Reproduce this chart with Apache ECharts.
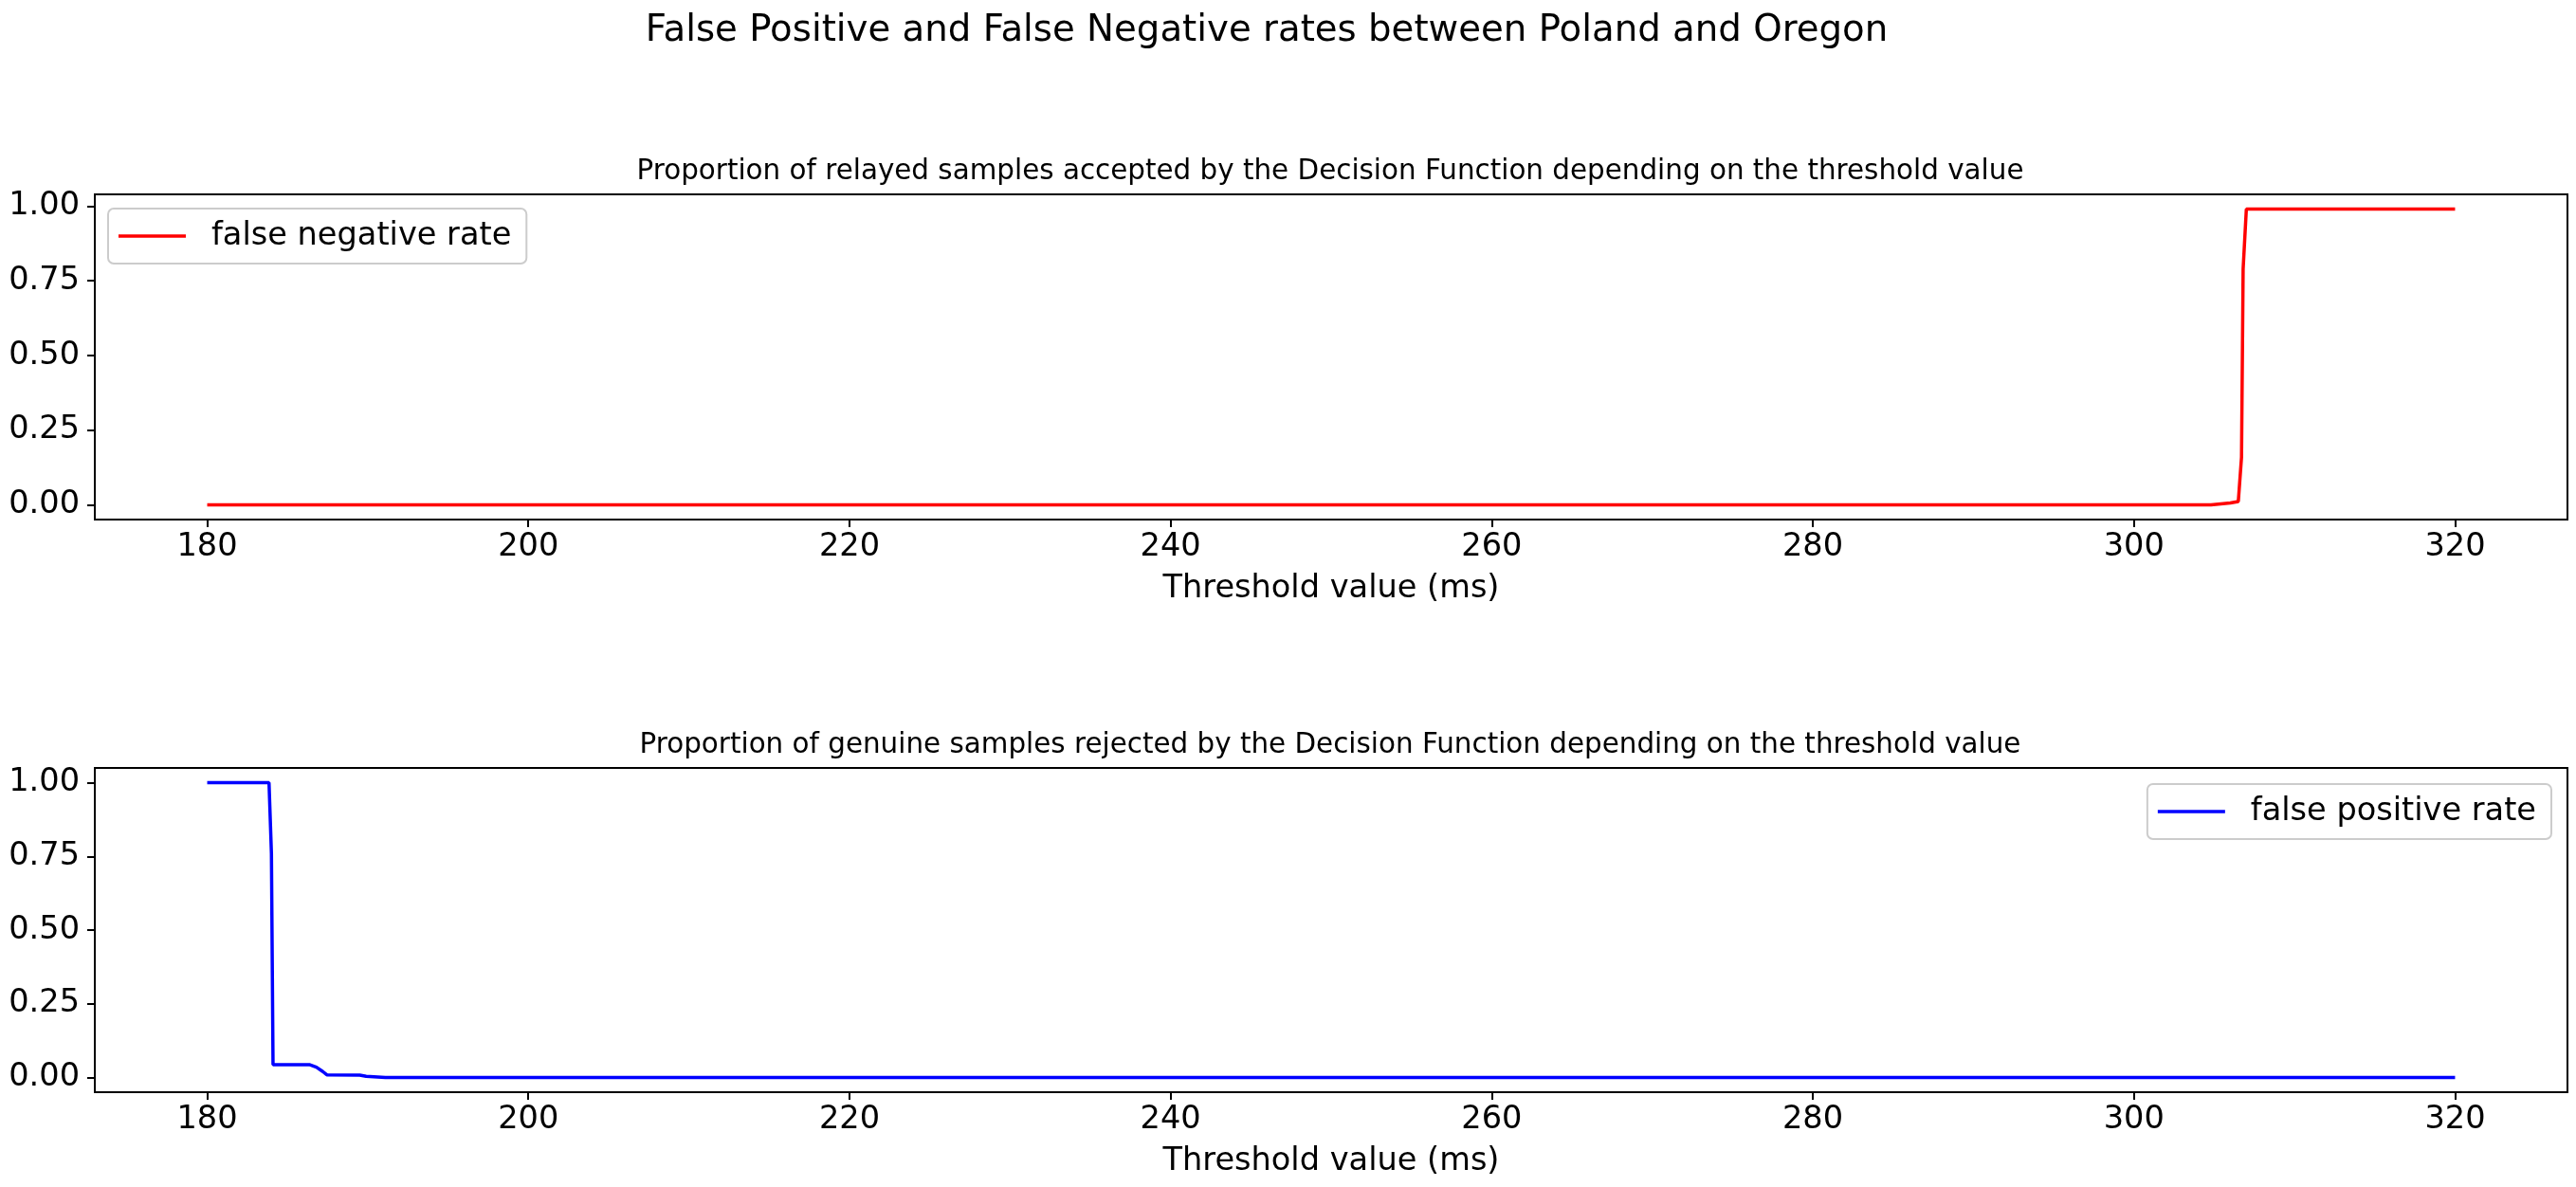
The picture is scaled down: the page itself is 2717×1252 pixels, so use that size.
<!DOCTYPE html>
<html>
<head>
<meta charset="utf-8">
<script src="https://cdn.jsdelivr.net/npm/echarts@6/dist/echarts.min.js"></script>
<style>
html,body{margin:0;padding:0;background:#fff;}
#chart{width:2717px;height:1252px;}
</style>
</head>
<body>
<div id="chart"></div>
<script>
// ---- data ----
const suptitle = "False Positive and False Negative rates between Poland and Oregon";
const topTitle = "Proportion of relayed samples accepted by the Decision Function depending on the threshold value";
const bottomTitle = "Proportion of genuine samples rejected by the Decision Function depending on the threshold value";
const xLabel = "Threshold value (ms)";
const xTicks = [180, 200, 220, 240, 260, 280, 300, 320];
const yTicks = [0, 0.25, 0.5, 0.75, 1.0];

const fnrName = "false negative rate";
const fnrX = [180, 304.8, 304.9, 306.0, 306.5, 306.7, 306.8, 307.0, 320];
const fnrY = [0, 0, 0.004, 0.006, 0.011, 0.16, 0.79, 0.99, 0.99];

const fprName = "false positive rate";
const fprX = [180, 183.85, 184.0, 184.1, 186.4, 186.8, 187.2, 187.45, 189.5, 189.9, 191.1, 320];
const fprY = [1.0, 1.0, 0.76, 0.043, 0.043, 0.035, 0.02, 0.009, 0.008, 0.004, 0.0, 0.0];

// ---- build ----
const FONT = "DejaVu Sans";
const AX = 33.6;
function pairs(xs, ys){ return xs.map((x,i)=>[x, ys[i]]); }
function margins(arr){ const mn=Math.min(...arr), mx=Math.max(...arr), r=mx-mn; return [mn-0.05*r, mx+0.05*r]; }
const xr = margins(fnrX.concat(fprX));
const y1 = margins(fnrY);
const y2 = margins(fprY);

const G = [
  {left:100, right:9, top:205, height:343},
  {left:100, right:9, top:810, height:342}
];

function xAxisFor(i){
  return {
    type:'value', gridIndex:i, min:xr[0], max:xr[1],
    name:xLabel, nameLocation:'middle', nameGap:56,
    nameTextStyle:{fontSize:AX, color:'#000', fontFamily:FONT},
    axisLine:{show:true, onZero:false, lineStyle:{color:'#000', width:2}},
    axisTick:{show:true, inside:false, length:8, lineStyle:{color:'#000', width:2}, customValues:xTicks},
    axisLabel:{fontSize:AX, color:'#000', fontFamily:FONT, margin:12, customValues:xTicks, formatter:v=>String(Math.round(v))},
    splitLine:{show:false}
  };
}
function yAxisFor(i, r){
  return {
    type:'value', gridIndex:i, min:r[0], max:r[1],
    axisLine:{show:true, onZero:false, lineStyle:{color:'#000', width:2}},
    axisTick:{show:true, inside:false, length:8, lineStyle:{color:'#000', width:2}, customValues:yTicks},
    axisLabel:{fontSize:AX, color:'#000', fontFamily:FONT, margin:16, customValues:yTicks, formatter:v=>v.toFixed(2)},
    splitLine:{show:false}
  };
}
function legendFor(name, pos){
  return Object.assign({
    data:[name], orient:'horizontal', icon:'rect', itemWidth:71, itemHeight:3.5,
    backgroundColor:'rgba(255,255,255,0.8)', borderColor:'#cccccc', borderWidth:2, borderRadius:6,
    padding:[12,16,12,11],
    textStyle:{fontSize:AX, color:'#000', fontFamily:FONT, padding:[0,0,0,22]}
  }, pos);
}

const chart = echarts.init(document.getElementById('chart'), null, {renderer:'canvas'});
chart.setOption({
  animation:false,
  backgroundColor:'#fff',
  textStyle:{fontFamily:FONT},
  grid: G.map(g=>Object.assign({show:true, borderColor:'#000', borderWidth:2, backgroundColor:'transparent'}, g)),
  xAxis:[xAxisFor(0), xAxisFor(1)],
  yAxis:[yAxisFor(0, y1), yAxisFor(1, y2)],
  legend:[
    legendFor(fnrName, {left:114, top:220}),
    legendFor(fprName, {right:26, top:827})
  ],
  graphic:[
    {type:'text', x:1336, y:33, style:{text:suptitle, fontSize:38.7, fontFamily:FONT, fill:'#000', textAlign:'center', textVerticalAlign:'middle'}},
    {type:'text', x:1403, y:181, style:{text:topTitle, fontSize:29.4, fontFamily:FONT, fill:'#000', textAlign:'center', textVerticalAlign:'middle'}},
    {type:'text', x:1403, y:786, style:{text:bottomTitle, fontSize:29.4, fontFamily:FONT, fill:'#000', textAlign:'center', textVerticalAlign:'middle'}}
  ],
  series:[
    {name:fnrName, type:'line', xAxisIndex:0, yAxisIndex:0, data:pairs(fnrX, fnrY), showSymbol:false, symbol:'none',
     lineStyle:{color:'#ff0000', width:3.5}, itemStyle:{color:'#ff0000'}, clip:true},
    {name:fprName, type:'line', xAxisIndex:1, yAxisIndex:1, data:pairs(fprX, fprY), showSymbol:false, symbol:'none',
     lineStyle:{color:'#0000ff', width:3.5}, itemStyle:{color:'#0000ff'}, clip:true}
  ]
});
</script>
</body>
</html>
